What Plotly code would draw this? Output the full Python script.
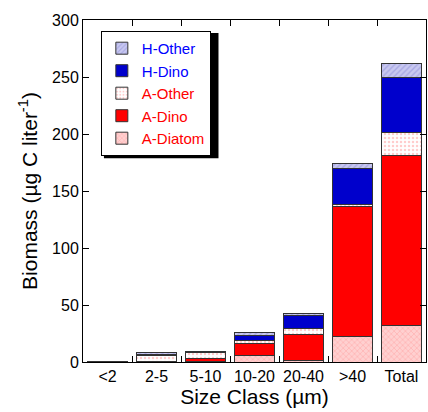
import plotly.graph_objects as go

size_classes = ["<2", "2-5", "5-10", "10-20", "20-40", ">40", "Total"]
a_diatom = [0.1, 0.2, 0.5, 6, 1, 22, 32]
a_dino = [0.1, 0.1, 2.5, 10, 23, 114, 149]
a_other = [0.1, 5.8, 5, 2.5, 5, 2.5, 20]
h_dino = [0.05, 0.1, 0.5, 4.5, 12, 31, 49]
h_other = [0.05, 2, 0.5, 2.5, 1.5, 5, 12]

font = "Arial, Liberation Sans, sans-serif"
edge = dict(color="#333333", width=1)

series = [
    ("A-Diatom", a_diatom, "red", dict(bgcolor="#ffd0d0", fgcolor="#ff8c8c", shape="x", size=4, solidity=0.3)),
    ("A-Dino", a_dino, "red", dict(bgcolor="#ff0000", shape="")),
    ("A-Other", a_other, "red", dict(bgcolor="#ffffff", fgcolor="#ff9a9a", shape=".", size=4, solidity=0.3)),
    ("H-Dino", h_dino, "blue", dict(bgcolor="#0000cc", shape="")),
    ("H-Other", h_other, "blue", dict(bgcolor="#c8c8f0", fgcolor="#8a8ad8", shape="/", size=4, solidity=0.35)),
]

fig = go.Figure()
for name, vals, txtcol, pat in series:
    fig.add_trace(go.Bar(
        x=size_classes, y=vals,
        name=f"<span style='color:{txtcol}'>{name}</span>",
        marker=dict(color=pat["bgcolor"], line=edge, pattern=pat),
    ))

# drop shadow behind the legend box
fig.add_shape(type="rect", xref="paper", yref="paper",
              x0=0.061, x1=0.395, y0=0.596, y1=0.962,
              fillcolor="black", line=dict(width=0), layer="above")

fig.update_layout(
    width=428, height=412,
    margin=dict(l=83, r=2, t=20, b=50),
    barmode="stack", bargap=0.2,
    plot_bgcolor="white", paper_bgcolor="white",
    font=dict(family=font, size=16, color="black"),
    legend=dict(
        x=0.052, y=0.968, xanchor="left", yanchor="top",
        traceorder="reversed", bgcolor="white",
        bordercolor="black", borderwidth=1,
        font=dict(size=15), tracegroupgap=0,
    ),
)
fig.update_xaxes(
    showline=True, linecolor="black", linewidth=1, mirror="allticks",
    ticks="inside", tickson="boundaries", ticklen=6, tickcolor="black",
    tickangle=0, showgrid=False,
    title=dict(text="Size Class (µm)", font=dict(size=21), standoff=4),
)
fig.update_yaxes(
    range=[0, 300], dtick=50,
    showline=True, linecolor="black", linewidth=1, mirror="allticks",
    ticks="inside", ticklen=6, tickcolor="black",
    showgrid=False, zeroline=False,
    title=dict(text="Biomass (µg C liter<sup>-1</sup>)", font=dict(size=21), standoff=8),
)

fig.write_html("out.html", config={"displayModeBar": False},
               post_script="document.body.style.margin='0';")
